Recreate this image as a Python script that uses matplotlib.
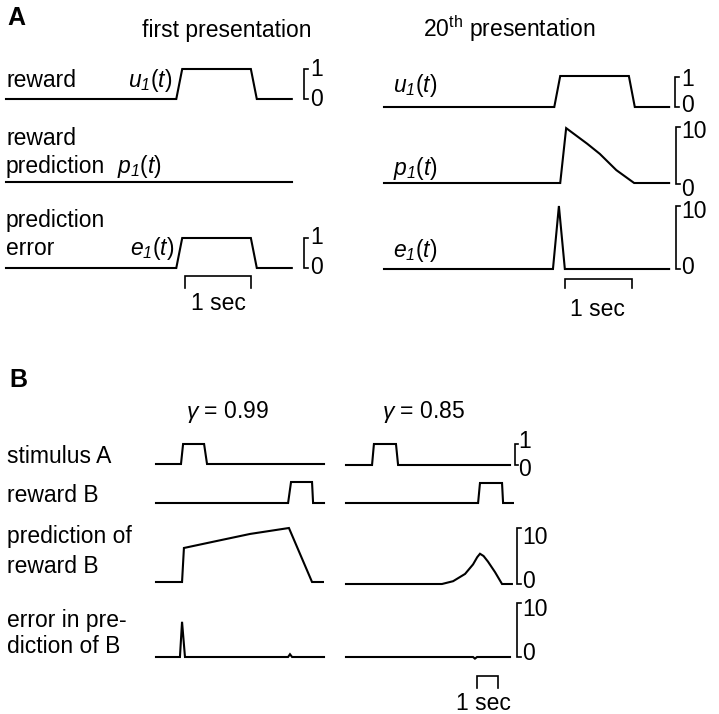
import matplotlib
matplotlib.use("Agg")
import matplotlib.pyplot as plt
from matplotlib.transforms import blended_transform_factory

plt.rcParams['font.family'] = ['Liberation Sans', 'DejaVu Sans']
plt.rcParams['mathtext.fontset'] = 'custom'
plt.rcParams['mathtext.rm'] = 'Liberation Sans'
plt.rcParams['mathtext.it'] = 'Liberation Sans:italic'
plt.rcParams['mathtext.sf'] = 'Liberation Sans:italic'
plt.rcParams['mathtext.bf'] = 'Liberation Sans:bold'

W, H = 719, 714
FS = 16.5
LW = 1.5

# ---------------- Panel A data (time in s) ----------------
a_u1_t = [0, 2.58, 2.67, 3.71, 3.80, 4.33]
a_u1_v = [0, 0, 1, 1, 0, 0]
a_p1_first_t = [0, 4.33]
a_p1_first_v = [0, 0]
a_e1_first_t = [0, 2.58, 2.67, 3.71, 3.80, 4.33]
a_e1_first_v = [0, 0, 1, 1, 0, 0]
a_u1_20_t = [0, 2.58, 2.67, 3.71, 3.80, 4.32]
a_u1_20_v = [0, 0, 1, 1, 0, 0]
a_p1_20_t = [0, 2.67, 2.76, 3.08, 3.27, 3.52, 3.79, 4.32]
a_p1_20_v = [0, 0, 9.8, 7.0, 5.2, 2.3, 0, 0]
a_e1_20_t = [0, 2.56, 2.65, 2.74, 4.32]
a_e1_20_v = [0, 0, 10, 0, 0]

# ---------------- Panel B data (time in s) ----------------
b_stim_099_t = [0, 1.19, 1.29, 2.29, 2.43, 8.0]
b_stim_099_v = [0, 0, 1, 1, 0, 0]
b_rew_099_t = [0, 6.29, 6.43, 7.43, 7.48, 8.0]
b_rew_099_v = [0, 0, 1, 1, 0, 0]
b_pred_099_t = [0, 1.24, 1.33, 2.90, 4.48, 6.33, 7.43, 7.95]
b_pred_099_v = [0, 0, 6.3, 7.6, 8.9, 10, 0, 0]
b_err_099_t = [0, 1.14, 1.24, 1.38, 6.29, 6.38, 6.48, 8.0]
b_err_099_v = [0, 0, 6.4, 0, 0, 0.5, 0, 0]

b_stim_085_t = [0, 1.24, 1.33, 2.38, 2.48, 7.81]
b_stim_085_v = [0, 0, 1, 1, 0, 0]
b_rew_085_t = [0, 6.29, 6.38, 7.43, 7.48, 7.95]
b_rew_085_v = [0, 0, 1, 1, 0, 0]
b_pred_085_t = [0, 4.57, 5.10, 5.67, 6.05, 6.25, 6.38, 6.55, 6.76, 7.10, 7.43, 7.90]
b_pred_085_v = [0, 0, 0.5, 1.8, 3.5, 4.8, 5.4, 5.0, 4.0, 2.1, 0, 0]
b_err_085_t = [0, 6.05, 6.14, 6.24, 7.81]
b_err_085_v = [0, 0, -0.3, 0, 0]

fig = plt.figure(figsize=(W / 100, H / 100), dpi=100)
ov = fig.add_axes([0, 0, 1, 1])
ov.set_xlim(0, W)
ov.set_ylim(H, 0)
ov.axis('off')


def trace(x0, base, top, pxs, T, vmax, t, v):
    ax = fig.add_axes([x0 / W, 1 - base / H, T * pxs / W, (base - top) / H])
    ax.set_xlim(0, T)
    ax.set_ylim(0, vmax)
    ax.axis('off')
    ax.plot(t, v, color='black', lw=LW, clip_on=False, solid_joinstyle='miter')
    return ax


def bracket(x, ytop, ybot, tick=4):
    ov.plot([x + tick, x, x, x + tick], [ytop, ytop, ybot, ybot],
            color='black', lw=1.2, solid_joinstyle='miter')


def txt(x, y, s, **kw):
    kw.setdefault('fontsize', FS)
    kw.setdefault('va', 'baseline')
    ov.text(x, y, s, **kw)


def secbar(ax, t0, t1, ytop, ybot):
    tr = blended_transform_factory(ax.transData, ov.transData)
    ov.plot([t0, t0, t1, t1], [ybot, ytop, ytop, ybot], color='black', lw=1.2,
            transform=tr, clip_on=False, solid_joinstyle='miter')


# ---------------- Panel A ----------------
PXA = 66
TA = 4.33
trace(6, 99, 69, PXA, TA, 1, a_u1_t, a_u1_v)
trace(6, 182, 126, PXA, TA, 10, a_p1_first_t, a_p1_first_v)
axe1 = trace(6, 268, 238, PXA, TA, 1, a_e1_first_t, a_e1_first_v)
trace(384, 107, 76, PXA, TA, 1, a_u1_20_t, a_u1_20_v)
trace(384, 183, 127, PXA, TA, 10, a_p1_20_t, a_p1_20_v)
axe2 = trace(384, 269, 206, PXA, TA, 10, a_e1_20_t, a_e1_20_v)

txt(7, 25, 'A', fontsize=18, fontweight='bold')
txt(227, 37, 'first presentation', ha='center')
txt(509, 37, r'20$^{\mathrm{th}}$ presentation', ha='center')

txt(6, 87, 'reward')
txt(128, 87, r'$u_{\mathsf{1}}(t)$')
txt(6, 145, 'reward')
txt(6, 173, 'prediction')
txt(117, 173, r'$p_{\mathsf{1}}(t)$')
txt(6, 227, 'prediction')
txt(6, 255, 'error')
txt(130, 255, r'$e_{\mathsf{1}}(t)$')

txt(393, 92, r'$u_{\mathsf{1}}(t)$')
txt(393, 175, r'$p_{\mathsf{1}}(t)$')
txt(393, 257, r'$e_{\mathsf{1}}(t)$')

bracket(304, 69, 99)
txt(310, 69, '1', va='center')
txt(310, 100, '0', va='center')
bracket(304, 238, 268)
txt(310, 237, '1', va='center')
txt(310, 268, '0', va='center')

bracket(675, 77, 107)
txt(681, 79, '1', va='center')
txt(681, 106, '0', va='center')
bracket(676, 127, 184)
txt(681, 132, '10', va='center')
txt(681, 190, '0', va='center')
bracket(676, 206, 269)
txt(681, 212, '10', va='center')
txt(681, 268, '0', va='center')

secbar(axe1, 2.71, 3.71, 276, 288)
txt(218, 310, '1 sec', ha='center')
secbar(axe2, 2.74, 3.76, 279, 288)
txt(597, 316, '1 sec', ha='center')

# ---------------- Panel B ----------------
PXB = 21
TB = 8.0
trace(156, 464, 444, PXB, TB, 1, b_stim_099_t, b_stim_099_v)
trace(156, 503, 482, PXB, TB, 1, b_rew_099_t, b_rew_099_v)
trace(156, 582, 528, PXB, TB, 10, b_pred_099_t, b_pred_099_v)
trace(156, 657, 602, PXB, TB, 10, b_err_099_t, b_err_099_v)

trace(346, 465, 444, PXB, TB, 1, b_stim_085_t, b_stim_085_v)
trace(346, 503, 483, PXB, TB, 1, b_rew_085_t, b_rew_085_v)
trace(346, 584, 528, PXB, TB, 10, b_pred_085_t, b_pred_085_v)
axb = trace(346, 657, 603, PXB, TB, 10, b_err_085_t, b_err_085_v)

txt(9, 387, 'B', fontsize=18, fontweight='bold')
txt(227, 418, r'$\gamma$ = 0.99', ha='center')
txt(424, 418, r'$\gamma$ = 0.85', ha='center')

txt(7, 463, 'stimulus A')
txt(7, 502, 'reward B')
txt(7, 543, 'prediction of')
txt(7, 573, 'reward B')
txt(7, 627, 'error in pre-')
txt(7, 653, 'diction of B')

bracket(515, 444, 465, tick=3)
txt(518, 442, '1', va='center')
txt(518, 470, '0', va='center')
bracket(517, 528, 584)
txt(522, 537, '10', va='center')
txt(522, 582, '0', va='center')
bracket(517, 603, 657)
txt(522, 610, '10', va='center')
txt(522, 654, '0', va='center')

secbar(axb, 6.24, 7.24, 676, 688)
txt(483, 710, '1 sec', ha='center')

fig.savefig('out.png', dpi=100)
